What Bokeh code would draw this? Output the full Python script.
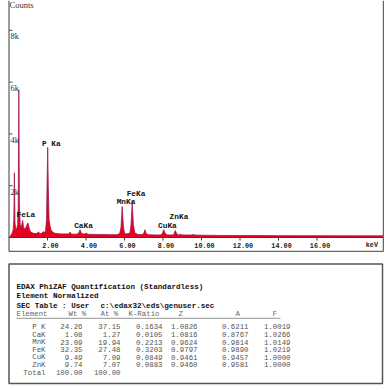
from bokeh.plotting import figure
from bokeh.models import Range1d
from bokeh.layouts import column
from bokeh.core.properties import value
from bokeh.embed import file_html
from bokeh.resources import INLINE

# ---------------- spectrum data ----------------
energy_kev = [0.00, 0.08, 0.15, 0.22, 0.25, 0.28, 0.31, 0.35, 0.40, 0.45, 0.48, 0.51, 0.54,
              0.58, 0.62, 0.66, 0.71, 0.75, 0.80, 0.85, 0.90, 0.95, 0.98, 1.01, 1.06, 1.12,
              1.20, 1.30, 1.40, 1.48, 1.53, 1.58, 1.68, 1.74, 1.79, 1.84, 1.90, 1.95, 1.98,
              2.01, 2.04, 2.08, 2.13, 2.18, 2.25, 2.35, 2.50, 2.70, 2.90, 3.10, 3.17, 3.22,
              3.35, 3.50, 3.62, 3.69, 3.76, 3.90, 4.01, 4.10, 4.40, 4.80, 5.20, 5.60, 5.75,
              5.82, 5.88, 5.94, 6.00, 6.10, 6.28, 6.34, 6.40, 6.46, 6.54, 6.70, 6.95, 7.02,
              7.06, 7.10, 7.20, 7.60, 7.90, 7.98, 8.04, 8.10, 8.20, 8.55, 8.59, 8.64, 8.69,
              8.80, 8.90, 9.00, 9.50, 9.57, 9.65, 10.0, 11.0, 12.0, 13.0, 14.0, 15.0, 16.0,
              17.0, 18.0, 19.0, 19.45]
counts = [0, 60, 150, 300, 700, 2500, 600, 300, 350, 500, 1200, 5700, 1300,
          500, 420, 480, 660, 420, 330, 350, 420, 520, 560, 500, 320, 220,
          180, 160, 150, 170, 220, 160, 150, 200, 230, 180, 260, 700, 2200,
          3480, 2000, 700, 450, 300, 220, 170, 150, 140, 140, 140, 210, 140,
          130, 130, 160, 300, 160, 130, 170, 125, 120, 115, 110, 110, 150,
          400, 1200, 450, 160, 140, 170, 500, 1370, 500, 170, 120, 115, 200,
          300, 200, 110, 100, 100, 180, 300, 180, 100, 100, 170, 270, 170,
          100, 120, 100, 95, 120, 95, 90, 80, 78, 75, 72, 70, 70,
          68, 66, 65, 65]

peak_labels = ["FeLa", "P Ka", "CaKa", "MnKa", "FeKa", "CuKa", "ZnKa"]
peak_label_kev = [0.88, 2.20, 3.87, 6.08, 6.60, 8.23, 8.83]
peak_label_counts = [850, 3620, 440, 1360, 1690, 460, 810]

x_ticks = [2, 4, 6, 8, 10, 12, 14, 16]
x_tick_labels = ["2.00", "4.00", "6.00", "8.00", "10.00", "12.00", "14.00", "16.00"]
y_ticks = [2000, 4000, 6000, 8000]
y_tick_labels = ["2k", "4k", "6k", "8k"]

# ---------------- quantification table ----------------
title_lines = ["EDAX PhiZAF Quantification (Standardless)",
               "Element Normalized",
               "SEC Table : User"]
sec_path = "c:\\edax32\\eds\\genuser.sec"
col_headers = ["Element", "Wt %", "At %", "K-Ratio", "Z", "A", "F"]
elements = ["P K", "CaK", "MnK", "FeK", "CuK", "ZnK", "Total"]
wt_pct = [24.26, 1.08, 23.09, 32.35, 9.49, 9.74, 100.00]
at_pct = [37.15, 1.27, 19.94, 27.48, 7.09, 7.07, 100.00]
k_ratio = [0.1634, 0.0105, 0.2213, 0.3203, 0.0849, 0.0883]
z_corr = [1.0826, 1.0816, 0.9624, 0.9797, 0.9461, 0.9460]
a_corr = [0.6211, 0.8767, 0.9814, 0.9890, 0.9457, 0.9581]
f_corr = [1.0019, 1.0266, 1.0149, 1.0219, 1.0000, 1.0000]

MONO = value("Liberation Mono")
SERIF = value("Liberation Serif")

# ---------------- spectrum figure ----------------
X0, X1 = -0.4416, 19.506
XR = 19.455          # right border of the spectrum box
Y0, Y1 = -579, 9151
YB = -540            # bottom border of the spectrum box
p = figure(width=384, height=252, x_range=Range1d(X0, X1), y_range=Range1d(Y0, Y1),
           x_axis_location=None, y_axis_location=None, toolbar_location=None,
           output_backend="svg", min_border=0)
p.min_border_left = p.min_border_right = p.min_border_top = p.min_border_bottom = 0
p.outline_line_color = None
p.xgrid.visible = False
p.ygrid.visible = False
p.background_fill_color = "white"
p.border_fill_color = "white"

p.varea(x=energy_kev, y1=0, y2=counts, fill_color="#e8001c")
p.line(x=energy_kev, y=counts, line_color="#9e1a50", line_width=0.8)

# axes and frame of the spectrum box
p.segment(x0=[0, 0], y0=[0, YB], x1=[XR, XR], y1=[0, YB],
          line_color=["#3a3a3a", "#666666"], line_width=[1, 1.5])
p.segment(x0=[0, XR], y0=[YB, YB], x1=[0, XR], y1=[Y1, Y1],
          line_color=["#3a3a3a", "#666666"], line_width=[1, 1.5])

p.segment(x0=x_ticks, y0=[0] * len(x_ticks), x1=x_ticks, y1=[-115] * len(x_ticks),
          line_color="#3a3a3a", line_width=1)
p.text(x=x_ticks, y=[-290] * len(x_ticks), text=x_tick_labels, x_offset=3,
       text_font=MONO, text_font_style="bold", text_font_size="6.8px",
       text_align="center", text_baseline="middle", text_color="#222222")
p.text(x=[18.85], y=[-290], text=["keV"], text_font=MONO, text_font_style="bold",
       text_font_size="6.8px", text_align="center", text_baseline="middle",
       text_color="#222222")

p.segment(x0=[0] * len(y_ticks), y0=y_ticks, x1=[0.19] * len(y_ticks), y1=y_ticks,
          line_color="#555555", line_width=1)
p.text(x=[0.08] * len(y_ticks), y=y_ticks, text=y_tick_labels, y_offset=1,
       text_font=SERIF, text_font_size="8.5px", text_align="left",
       text_baseline="top", text_color="#333333")
p.text(x=[0.03], y=[Y1], text=["Counts"], y_offset=-1, text_font=SERIF,
       text_font_size="8.5px", text_align="left", text_baseline="top",
       text_color="#333333")

p.text(x=peak_label_kev, y=peak_label_counts, text=peak_labels, text_font=MONO,
       text_font_style="bold", text_font_size="7.8px", text_align="center",
       text_baseline="middle", text_color="#111111")

# ---------------- table figure (page-pixel coordinates) ----------------
t = figure(width=384, height=134, x_range=Range1d(0, 384), y_range=Range1d(386, 252),
           x_axis_location=None, y_axis_location=None, toolbar_location=None,
           output_backend="svg", min_border=0)
t.min_border_left = t.min_border_right = t.min_border_top = t.min_border_bottom = 0
t.outline_line_color = None
t.xgrid.visible = False
t.ygrid.visible = False
t.background_fill_color = "white"
t.border_fill_color = "white"

t.quad(left=[8.5], right=[382], top=[263.5], bottom=[383], fill_color=None,
       line_color="#555555", line_width=1.5)

t.text(x=[16, 16, 16, 100], y=[286, 295.7, 305, 305], text=title_lines + [sec_path],
       text_font=MONO, text_font_style="bold", text_font_size="7.6px",
       text_align="left", text_baseline="middle", text_color="#111111")

header_x = [16, 68, 100, 128, 178, 235, 272]
t.text(x=header_x, y=[313.5] * len(col_headers), text=col_headers, text_font=MONO,
       text_font_size="7.4px", text_align="left", text_baseline="middle",
       text_color="#666666")
t.segment(x0=[16], y0=[317.8], x1=[280], y1=[317.8], line_color="#777777", line_width=0.8)

row_y = [326, 334, 341.5, 349, 356.5, 364, 372]
cols = [
    (45, elements),
    (82, [f"{v:.2f}" for v in wt_pct]),
    (120, [f"{v:.2f}" for v in at_pct]),
    (162, [f"{v:.4f}" for v in k_ratio]),
    (197, [f"{v:.4f}" for v in z_corr]),
    (248, [f"{v:.4f}" for v in a_corr]),
    (290, [f"{v:.4f}" for v in f_corr]),
]
for cx, texts in cols:
    t.text(x=[cx] * len(texts), y=row_y[:len(texts)], text=texts, text_font=MONO,
           text_font_size="7.4px", text_align="right", text_baseline="middle",
           text_color="#555555")

layout = column(p, t, spacing=0)
open("out.html", "w").write(file_html(layout, INLINE))
